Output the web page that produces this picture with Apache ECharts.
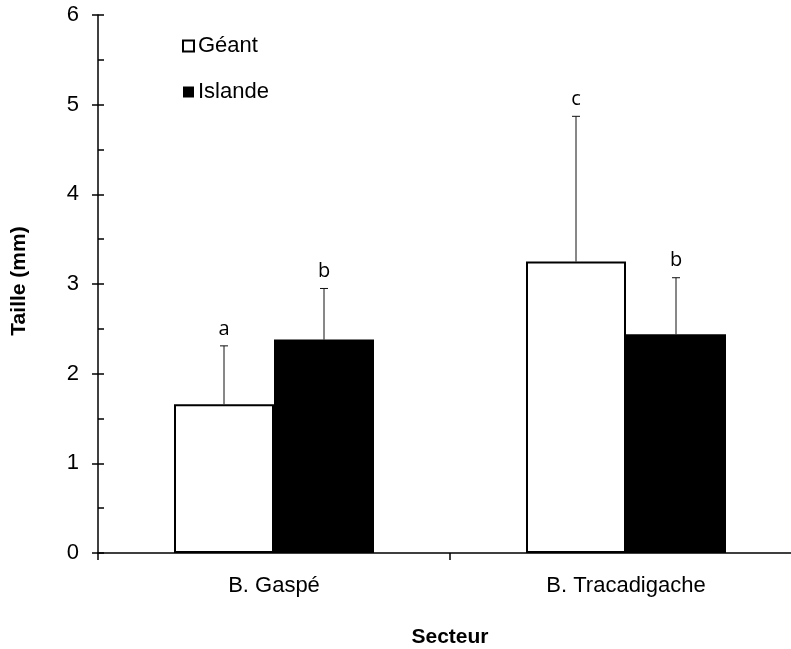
<!DOCTYPE html>
<html>
<head>
<meta charset="utf-8">
<script src="https://cdn.jsdelivr.net/npm/echarts@6/dist/echarts.min.js"></script>
<style>
  html, body { margin: 0; padding: 0; background: #fff; overflow: hidden; }
  /* the category axis runs slightly past the right edge of the page */
  #chart { width: 820px; height: 649px; }
</style>
</head>
<body>
<div id="chart"></div>
<script>
// Mean size per sector, with standard deviation and significance letters
var categories = ['B. Gaspé', 'B. Tracadigache'];
var seriesNames = ['Géant', 'Islande'];
var geant = [1.66, 3.25];
var islande = [2.38, 2.44];
var geantErr = [0.65, 1.62];
var islandeErr = [0.57, 0.63];
var geantLetters = ['a', 'c'];
var islandeLetters = ['b', 'b'];
var yTicks = [0, 1, 2, 3, 4, 5, 6];

var BAR_W = 100;
var FONT = '"Liberation Sans", Arial, sans-serif';

function errorItems(values, errs) {
  return values.map(function (v, i) { return [i, v, errs[i]]; });
}

function makeErrorRenderer(side, letters) {
  // side: -1 for the left bar of a pair, +1 for the right one
  return function (params, api) {
    var cat = api.value(0);
    var val = api.value(1);
    var err = api.value(2);
    var letter = letters[params.dataIndex];
    var base = api.coord([cat, val]);
    var top = api.coord([cat, val + err]);
    var x = base[0] + side * BAR_W / 2;
    var capHalf = 4;
    return {
      type: 'group',
      children: [
        { type: 'line', shape: { x1: x, y1: base[1], x2: x, y2: top[1] },
          style: { stroke: '#111', lineWidth: 1 } },
        { type: 'line', shape: { x1: x - capHalf, y1: top[1], x2: x + capHalf, y2: top[1] },
          style: { stroke: '#111', lineWidth: 1 } },
        { type: 'text', x: x, y: top[1] - 7,
          style: { text: letter, fill: '#000', font: '20px "Open Sans", "Noto Sans", sans-serif',
                   textAlign: 'center', textVerticalAlign: 'bottom' } }
      ]
    };
  };
}

var chart = echarts.init(document.getElementById('chart'), null, { renderer: 'canvas' });

var option = {
  animation: false,
  backgroundColor: '#fff',
  textStyle: { fontFamily: FONT },
  grid: { left: 98, top: 15, bottom: 96, right: 18, containLabel: false },
  legend: {
    data: seriesNames,
    orient: 'vertical',
    left: 182,
    top: 35,
    padding: 0,
    itemWidth: 11,
    itemHeight: 11,
    itemGap: 24,
    icon: 'rect',
    textStyle: { fontFamily: FONT, fontSize: 22, color: '#000', padding: [0, 0, 0, -1] }
  },
  xAxis: {
    type: 'category',
    data: categories,
    axisLine: { lineStyle: { color: '#000', width: 1.5 } },
    axisTick: { show: true, alignWithLabel: false, length: 7, lineStyle: { color: '#000', width: 1.5 } },
    axisLabel: { color: '#000', fontSize: 22, fontFamily: FONT, margin: 22 },
    splitLine: { show: false }
  },
  yAxis: [
    {
      type: 'value',
      min: yTicks[0], max: yTicks[yTicks.length - 1], interval: 1,
      axisLine: { show: true, lineStyle: { color: '#000', width: 1.5 } },
      axisTick: { show: true, length: 6, lineStyle: { color: '#000', width: 1.5 } },
      axisLabel: { color: '#000', fontSize: 22, fontFamily: FONT, margin: 19 },
      splitLine: { show: false }
    },
    {
      type: 'value',
      position: 'left',
      min: yTicks[0], max: yTicks[yTicks.length - 1], interval: 1,
      axisLine: { show: false },
      axisTick: { show: true, inside: true, length: 6, lineStyle: { color: '#000', width: 1.5 } },
      minorTick: { show: true, splitNumber: 2, length: 6, lineStyle: { color: '#000', width: 1.5 } },
      axisLabel: { show: false },
      splitLine: { show: false }
    }
  ],
  graphic: [
    { type: 'text', x: 19, y: 281, rotation: Math.PI / 2,
      style: { text: 'Taille (mm)', font: 'bold 21px ' + FONT, fill: '#000',
               textAlign: 'center', textVerticalAlign: 'middle' } },
    { type: 'text', x: 450, y: 637,
      style: { text: 'Secteur', font: 'bold 21px ' + FONT, fill: '#000',
               textAlign: 'center', textVerticalAlign: 'middle' } }
  ],
  series: [
    {
      name: seriesNames[0],
      type: 'bar',
      data: geant,
      barWidth: BAR_W,
      barGap: '0%',
      itemStyle: { color: '#fff', borderColor: '#000', borderWidth: 2 }
    },
    {
      name: seriesNames[1],
      type: 'bar',
      data: islande,
      barWidth: BAR_W,
      barGap: '0%',
      itemStyle: { color: '#000', borderColor: '#000', borderWidth: 0 }
    },
    {
      type: 'custom',
      renderItem: makeErrorRenderer(-1, geantLetters),
      data: errorItems(geant, geantErr),
      encode: { x: 0, y: 1 },
      z: 5
    },
    {
      type: 'custom',
      renderItem: makeErrorRenderer(1, islandeLetters),
      data: errorItems(islande, islandeErr),
      encode: { x: 0, y: 1 },
      z: 5
    }
  ]
};

chart.setOption(option);
</script>
</body>
</html>
